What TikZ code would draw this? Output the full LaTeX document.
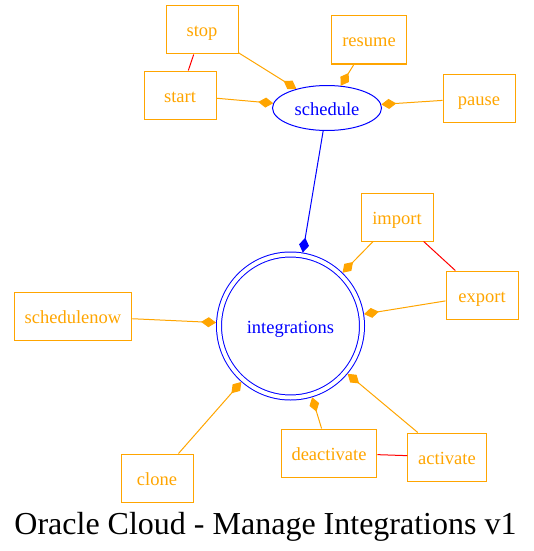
\documentclass[tikz,border=0pt]{standalone}
\usepackage{fontspec}
\setmainfont{Liberation Serif}
\usetikzlibrary{arrows.meta,shapes.geometric}

\definecolor{gvorange}{HTML}{FFA500}
\definecolor{gvblue}{HTML}{0000FF}
\definecolor{gvred}{HTML}{FF0000}

\begin{document}
\begin{tikzpicture}[x=1pt,y=-1pt,
    every node/.style={font=\fontsize{18.5}{22}\selectfont,text height=14pt,text depth=0pt},
    act/.style={draw=gvorange,text=gvorange,rectangle,line width=1pt,
        minimum width=72pt,minimum height=48pt,inner xsep=10.5pt},
    link/.style={draw=gvorange,line width=1pt,-{Diamond[length=15pt,width=10pt]}},
    pair/.style={draw=gvred,line width=1pt}]
                \useasboundingbox (0,0) rectangle (534,551);
                % the two central nodes
                \node[ellipse,draw=gvblue,text=gvblue,line width=1pt,inner sep=0,
                    minimum width=109pt,minimum height=45pt] (schedule) at (327,108) {schedule};
                \node[circle,draw=gvblue,text=gvblue,line width=1pt,double,double distance=4pt,
                    inner sep=0,outer sep=3pt,minimum size=143pt] (integrations) at (290.5,326) {integrations};
                % actions
                \node[act] (stop) at (202,30) {stop};
                \node[act] (resume) at (369,40) {resume};
                \node[act] (start) at (180,95) {start};
                \node[act] (pause) at (479,98) {pause};
                \node[act] (import) at (397,217) {import};
                \node[act] (export) at (482,295) {export};
                \node[act] (schedulenow) at (73,316) {schedulenow};
                \node[act] (clone) at (157,478) {clone};
                \node[act] (deactivate) at (329,453) {deactivate};
                \node[act] (activate) at (447,457) {activate};
                % edges
                \draw[link] (stop) -- (schedule);
                \draw[link] (resume) -- (schedule);
                \draw[link] (start) -- (schedule);
                \draw[link] (pause) -- (schedule);
                \draw[link,draw=gvblue] (schedule) -- (integrations);
                \draw[link] (import) -- (integrations);
                \draw[link] (export) -- (integrations);
                \draw[link] (schedulenow) -- (integrations);
                \draw[link] (clone) -- (integrations);
                \draw[link] (deactivate) -- (integrations);
                \draw[link] (activate) -- (integrations);
                \draw[pair] (stop) -- (start);
                \draw[pair] (import) -- (export);
                \draw[pair] (deactivate) -- (activate);
                % title
                \node[font=\fontsize{32}{38}\selectfont,anchor=base] (title) at (265.5,534)
                    {Oracle Cloud - Manage Integrations v1};
            \end{tikzpicture}
\end{document}
